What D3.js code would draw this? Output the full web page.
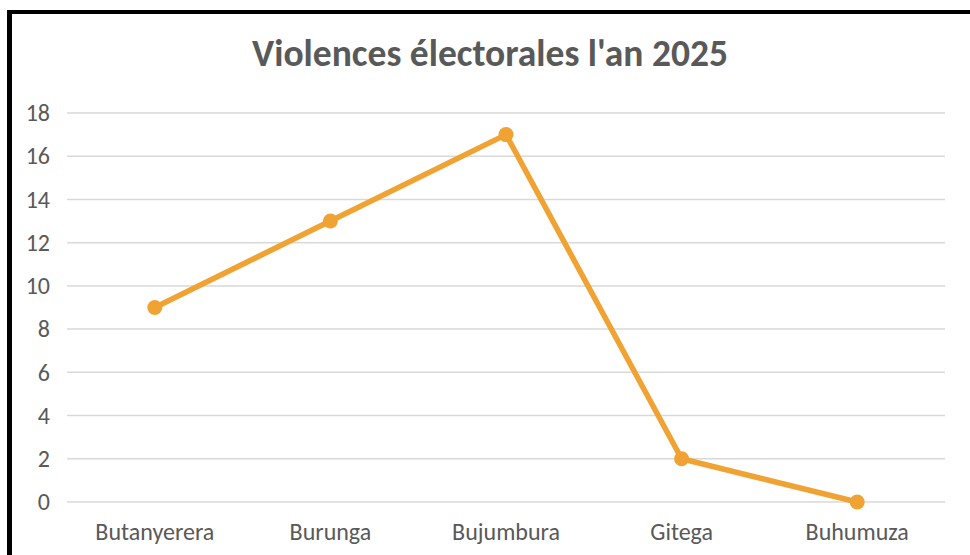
<!DOCTYPE html>
<html>
<head>
<meta charset="utf-8">
<script src="https://cdn.jsdelivr.net/npm/d3@7"></script>
<style>
  html, body { margin: 0; padding: 0; background: #fff; }
  svg { display: block; }
</style>
</head>
<body>
<svg id="chart" width="970" height="555"></svg>
<script>
// Chart content
const title = "Violences électorales l'an 2025";
const categories = ["Butanyerera", "Burunga", "Bujumbura", "Gitega", "Buhumuza"];
const values = [9, 13, 17, 2, 0];
const yTicks = [0, 2, 4, 6, 8, 10, 12, 14, 16, 18];

const W = 970, H = 555;
const margin = { left: 67, right: 25, top: 113, bottom: 53 };
const font = "Carlito, Calibri, 'Open Sans', sans-serif";
const textColor = "#595959";
const lineColor = "#F0A232";

const svg = d3.select("#chart");
svg.append("rect").attr("width", W).attr("height", H).attr("fill", "#fff");

// Frame around the chart (top and left edges visible)
svg.append("line").attr("x1", 7).attr("x2", W).attr("y1", 12).attr("y2", 12)
  .attr("stroke", "#000").attr("stroke-width", 4);
svg.append("line").attr("x1", 9.5).attr("x2", 9.5).attr("y1", 10).attr("y2", H)
  .attr("stroke", "#000").attr("stroke-width", 5);

const x = d3.scaleBand().domain(categories)
  .range([margin.left, W - margin.right]).padding(0);
const y = d3.scaleLinear().domain([0, 18])
  .range([H - margin.bottom, margin.top]);

// Horizontal gridlines
svg.append("g").selectAll("line").data(yTicks).join("line")
  .attr("x1", margin.left).attr("x2", W - margin.right)
  .attr("y1", d => y(d)).attr("y2", d => y(d))
  .attr("stroke", "#d9d9d9").attr("stroke-width", 1.5);

// Y axis labels
const yAxis = d3.axisLeft(y).tickValues(yTicks).tickSize(0).tickPadding(0);
svg.append("g").attr("transform", `translate(${margin.left - 17},0)`)
  .call(yAxis)
  .call(g => g.select(".domain").remove())
  .call(g => g.selectAll("text")
    .attr("font-family", font).attr("font-size", 24).attr("fill", textColor));

// X axis labels
const xAxis = d3.axisBottom(x).tickSize(0).tickPadding(0);
svg.append("g").attr("transform", `translate(0,${H - margin.bottom + 21})`)
  .call(xAxis)
  .call(g => g.select(".domain").remove())
  .call(g => g.selectAll("text")
    .attr("font-family", font).attr("font-size", 24).attr("fill", textColor));

// Title
svg.append("text").attr("x", (margin.left + W - margin.right) / 2 - 16).attr("y", 66)
  .attr("text-anchor", "middle")
  .attr("font-family", font).attr("font-weight", "bold").attr("font-size", 37.5)
  .attr("fill", textColor).text(title);

// Series line and markers
const data = categories.map((c, i) => ({ c, v: values[i] }));
const line = d3.line().x(d => x(d.c) + x.bandwidth() / 2).y(d => y(d.v));
svg.append("path").datum(data).attr("d", line)
  .attr("fill", "none").attr("stroke", lineColor).attr("stroke-width", 5.5)
  .attr("stroke-linejoin", "round").attr("stroke-linecap", "round");
svg.append("g").selectAll("circle").data(data).join("circle")
  .attr("cx", d => x(d.c) + x.bandwidth() / 2).attr("cy", d => y(d.v))
  .attr("r", 7.5).attr("fill", lineColor);
</script>
</body>
</html>
